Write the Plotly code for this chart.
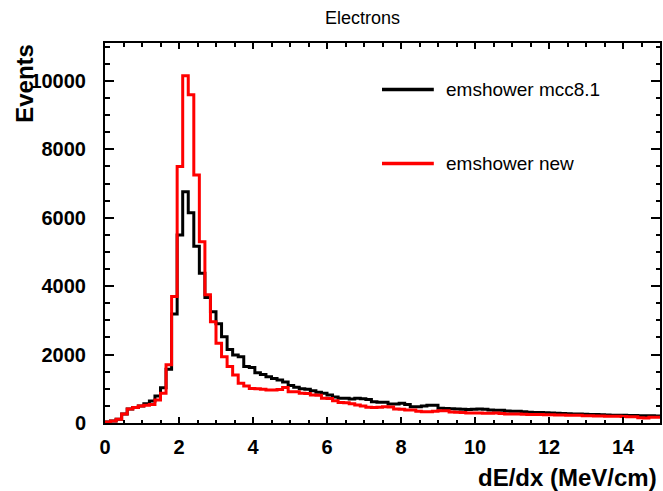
import numpy as np
import plotly.graph_objects as go

# Histogram binning: 100 bins between 0 and 15 MeV/cm
X_LOW, X_HIGH, N_BINS = 0.0, 15.0, 100
edges = np.linspace(X_LOW, X_HIGH, N_BINS + 1)

# Bin contents (events per bin)
mcc81_counts = [
    30, 60, 110, 260, 410, 450, 500, 560, 640, 790,
    1030, 1570, 3190, 5500, 6760, 6150, 5170, 4380, 3670, 3250,
    2900, 2520, 2150, 1990, 1940, 1650, 1620, 1470, 1420, 1350,
    1300, 1257, 1200, 1100, 1043, 1000, 985, 945, 900, 867,
    820, 760, 721, 721, 700, 721, 710, 690, 620, 604,
    604, 556, 556, 575, 540, 478, 478, 500, 516, 516,
    430, 425, 420, 410, 405, 395, 400, 410, 400, 380,
    375, 370, 350, 345, 340, 330, 315, 310, 305, 300,
    290, 285, 280, 270, 265, 262, 255, 250, 245, 240,
    235, 230, 228, 225, 222, 220, 215, 212, 210, 208,
]
new_counts = [
    30, 60, 110, 260, 410, 450, 500, 520, 540, 670,
    870, 1700, 3700, 7500, 10150, 9600, 7250, 5300, 3750, 2960,
    2330, 1940, 1650, 1400, 1160, 1080, 1010, 1000, 990, 965,
    965, 980, 1040, 916, 910, 867, 860, 819, 810, 721,
    715, 653, 600, 590, 560, 526, 500, 458, 455, 460,
    478, 470, 409, 400, 380, 378, 340, 331, 330, 340,
    360, 355, 320, 315, 305, 295, 290, 290, 285, 285,
    290, 280, 265, 262, 260, 255, 250, 248, 245, 240,
    238, 235, 232, 230, 228, 225, 215, 210, 208, 205,
    200, 198, 195, 190, 185, 180, 150, 145, 170, 170,
]

series_names = ["emshower mcc8.1", "emshower new"]
series_colors = ["#000000", "#ff0000"]

Y_MAX = 11110
W, H = 663, 491
L, R, T, B = 105, 1, 43, 68
plot_w, plot_h = W - L - R, H - T - B


def px_x(p):
    return (p - L) / plot_w


def px_y(p):
    return (H - B - p) / plot_h


def step_y(counts):
    return list(counts) + [counts[-1]]


fig = go.Figure()
for counts, name, color in zip([mcc81_counts, new_counts], series_names, series_colors):
    fig.add_trace(go.Scatter(
        x=edges, y=step_y(counts), mode="lines", name=name,
        line=dict(color=color, width=3, shape="hv"),
        showlegend=False, hoverinfo="skip",
    ))

FONT = "Liberation Sans, Arial, Helvetica, sans-serif"

axis_common = dict(
    showline=True, linewidth=2, linecolor="black", mirror="ticks",
    ticks="inside", tickcolor="black", tickwidth=1.5,
    showgrid=False, zeroline=False, tickformat="d",
    tickfont=dict(family=FONT, size=20, color="black", weight="bold"),
)

fig.update_layout(
    width=W, height=H,
    margin=dict(l=L, r=R, t=T, b=B),
    paper_bgcolor="white", plot_bgcolor="white",
    xaxis=dict(
        range=[X_LOW, X_HIGH], tick0=0, dtick=2, ticklen=6,
        ticklabelstandoff=5,
        minor=dict(dtick=0.5, ticks="inside", ticklen=3.5, tickcolor="black", tickwidth=1.5, showgrid=False),
        **axis_common,
    ),
    yaxis=dict(
        range=[0, Y_MAX], tick0=0, dtick=2000, ticklen=9,
        ticklabelstandoff=13,
        minor=dict(dtick=500, ticks="inside", ticklen=4.5, tickcolor="black", tickwidth=1.5, showgrid=False),
        **axis_common,
    ),
)

annotations = [
    dict(text="Electrons", x=px_x(363), y=px_y(18), xanchor="center", yanchor="middle",
         font=dict(family=FONT, size=18, color="black")),
    dict(text="dE/dx (MeV/cm)", x=px_x(661), y=px_y(477), xanchor="right", yanchor="middle",
         font=dict(family=FONT, size=24, color="black", weight="bold")),
    dict(text="Events", textangle=-90, x=px_x(24), y=px_y(42), xanchor="center", yanchor="top",
         font=dict(family=FONT, size=24, color="black", weight="bold")),
]

# Legend: line samples and labels
legend_rows = [89.5, 163.5]
for name, color, row in zip(series_names, series_colors, legend_rows):
    fig.add_shape(type="line", xref="paper", yref="paper",
                  x0=px_x(383), x1=px_x(435), y0=px_y(row), y1=px_y(row),
                  line=dict(color=color, width=3.5))
    annotations.append(dict(text=name, x=px_x(445), y=px_y(row), xanchor="left", yanchor="middle",
                            font=dict(family=FONT, size=19, color="black")))

for a in annotations:
    a.update(xref="paper", yref="paper", showarrow=False)
fig.update_layout(annotations=annotations)

fig.write_html("out.html")
